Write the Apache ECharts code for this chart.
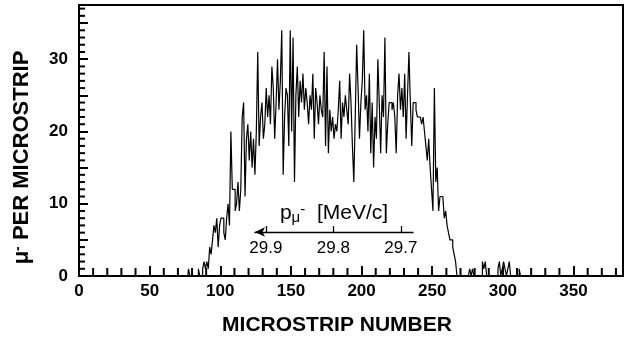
<!DOCTYPE html>
<html>
<head>
<meta charset="utf-8">
<script src="https://cdn.jsdelivr.net/npm/echarts@6/dist/echarts.min.js"></script>
<style>
  html, body { margin: 0; padding: 0; background: #fff; }
  #chart { width: 626px; height: 337px; }
</style>
</head>
<body>
<div id="chart"></div>
<script>
// counts per microstrip, first entry is strip 75
const firstStrip = 75;
const counts = [
  0, 0, 0, 1, 0, 0, 0, 0, 0, 0,
  1, 0, 0, 1, 2, 1, 2, 1, 4, 3,
  5, 7, 6, 8, 4, 7, 8, 8, 6, 5,
  8, 10, 7, 20, 12, 12, 9, 10, 13, 9,
  12, 22, 24, 11, 19, 21, 16, 20, 15, 19,
  14, 20, 31, 18, 22, 24, 19, 21, 26, 22,
  25, 21, 29, 26, 19, 24, 30, 23, 27, 34,
  14, 22, 26, 25, 18, 34, 20, 33, 13, 25,
  29, 22, 27, 24, 28, 23, 26, 24, 21, 25,
  23, 28, 19, 26, 24, 21, 25, 23, 22, 31,
  18, 29, 17, 23, 20, 22, 19, 21, 20, 23,
  27, 19, 24, 22, 25, 23, 21, 28, 24, 18,
  13, 22, 32, 26, 19, 24, 27, 34, 23, 25,
  20, 28, 17, 24, 15, 22, 19, 30, 24, 17,
  25, 22, 33, 17, 21, 24, 24, 23, 24, 22,
  17, 25, 28, 23, 26, 22, 28, 19, 25, 31,
  24, 18, 24, 24, 23, 22, 22, 22, 21, 22,
  20, 18, 16, 19, 15, 12, 9, 26, 13, 15,
  9, 11, 11, 11, 8, 9, 7, 6, 5, 5,
  4, 3, 2, 0, 0, 0, 0, 0, 0, 0,
  0, 0, 1, 0, 1, 0, 0, 0, 0, 0,
  0, 2, 1, 2, 0, 0, 0, 0, 0, 0,
  0, 0, 1, 2, 0, 1, 2, 1, 0, 1,
  2, 0, 0, 0, 0, 0, 0, 1, 0, 0
];

const xMajorTicks = [0, 50, 100, 150, 200, 250, 300, 350];
const xMinorTicks = [10, 20, 30, 40, 60, 70, 80, 90, 110, 120, 130, 140, 160, 170, 180, 190,
  210, 220, 230, 240, 260, 270, 280, 290, 310, 320, 330, 340, 360, 370, 380];
const yLabels = [0, 10, 20, 30];
const yMajorTicks = [5, 10, 15, 20, 25, 30, 35];
const yMinorTicks = [1, 2, 3, 4, 6, 7, 8, 9, 11, 12, 13, 14, 16, 17, 18, 19,
  21, 22, 23, 24, 26, 27, 28, 29, 31, 32, 33, 34, 36, 37];
const momentumTicks = [29.9, 29.8, 29.7];

const FONT = "Liberation Sans, Arial, sans-serif";
const black = "#000";

const points = counts.map((c, i) => [firstStrip + i, c]);

const chart = echarts.init(document.getElementById("chart"), null, { renderer: "canvas" });

chart.setOption({
  animation: false,
  backgroundColor: "#fff",
  grid: [
    { left: 79, right: 3, top: 5, bottom: 61, outerBoundsMode: "none", show: true, borderColor: black, borderWidth: 2, backgroundColor: "transparent" },
    { left: 255, top: 231, width: 158, height: 1, outerBoundsMode: "none" }
  ],
  xAxis: [
    {
      type: "value", gridIndex: 0, position: "bottom", min: 0, max: 385,
      splitLine: { show: false },
      axisLine: { onZero: false, lineStyle: { color: black, width: 2 } },
      axisTick: { show: true, inside: true, length: 10, customValues: xMajorTicks, lineStyle: { color: black, width: 2 } },
      axisLabel: { customValues: xMajorTicks, margin: 7, color: black, fontFamily: FONT, fontSize: 17, fontWeight: "bold" },
      name: "MICROSTRIP NUMBER", nameLocation: "middle", nameGap: 39,
      nameTextStyle: { color: black, fontFamily: FONT, fontSize: 21, fontWeight: "bold", padding: [0, 28, 0, 0] }
    },
    {
      type: "value", gridIndex: 1, position: "bottom", inverse: true, min: 29.682, max: 29.916,
      splitLine: { show: false },
      axisLine: { onZero: false, symbol: ["arrow", "none"], symbolSize: [7, 10], lineStyle: { color: black, width: 1.3 } },
      axisTick: { inside: true, length: 6, customValues: momentumTicks, lineStyle: { color: black, width: 1.3 } },
      axisLabel: {
        customValues: momentumTicks, margin: 8, color: black, fontFamily: FONT, fontSize: 17,
        formatter: v => v.toFixed(1)
      },
      name: "{p|p}{sub|μ}{sup|-}  [MeV/c]", nameLocation: "middle", nameGap: -30,
      nameTextStyle: {
        color: black, fontFamily: FONT, fontSize: 21,
        rich: {
          p: { fontFamily: FONT, fontSize: 21, color: black },
          sub: { fontFamily: FONT, fontSize: 15, color: black, verticalAlign: "bottom", padding: [8, 0, 0, 0] },
          sup: { fontFamily: FONT, fontSize: 15, color: black, verticalAlign: "top" }
        }
      }
    }
  ],
  yAxis: [
    {
      type: "value", gridIndex: 0, position: "left", min: 0, max: 37.5,
      splitLine: { show: false },
      axisLine: { onZero: false, lineStyle: { color: black, width: 2 } },
      axisTick: { show: true, inside: true, length: 9, customValues: yMajorTicks, lineStyle: { color: black, width: 2 } },
      axisLabel: { customValues: yLabels, margin: 11, color: black, fontFamily: FONT, fontSize: 17, fontWeight: "bold" },
      name: "{mu|μ}{sup|-} PER MICROSTRIP", nameLocation: "middle", nameGap: 46, nameRotate: 90,
      nameTextStyle: {
        color: black, fontFamily: FONT, fontSize: 22, fontWeight: "bold", padding: [0, 34, 0, 0],
        rich: {
          mu: { fontFamily: FONT, fontSize: 22, fontWeight: "bold", color: black },
          sup: { fontFamily: FONT, fontSize: 14, fontWeight: "bold", color: black, verticalAlign: "top" }
        }
      }
    },
    { type: "value", gridIndex: 1, show: false, min: 0, max: 1 }
  ],
  series: [
    {
      type: "line", xAxisIndex: 0, yAxisIndex: 0, step: "middle", symbol: "none",
      lineStyle: { color: black, width: 1.2 },
      data: points
    },
    // short ticks along the bottom axis
    {
      type: "scatter", xAxisIndex: 0, yAxisIndex: 0, silent: true, clip: false, z: 10,
      symbol: "rect", symbolSize: [2, 8], symbolOffset: [0, -4],
      itemStyle: { color: black, opacity: 1 },
      data: xMinorTicks.map(v => [v, 0])
    },
    // short ticks along the left axis
    {
      type: "scatter", xAxisIndex: 0, yAxisIndex: 0, silent: true, clip: false, z: 10,
      symbol: "rect", symbolSize: [6, 2], symbolOffset: [3, 0],
      itemStyle: { color: black, opacity: 1 },
      data: yMinorTicks.map(v => [0, v])
    }
  ]
});
</script>
</body>
</html>
